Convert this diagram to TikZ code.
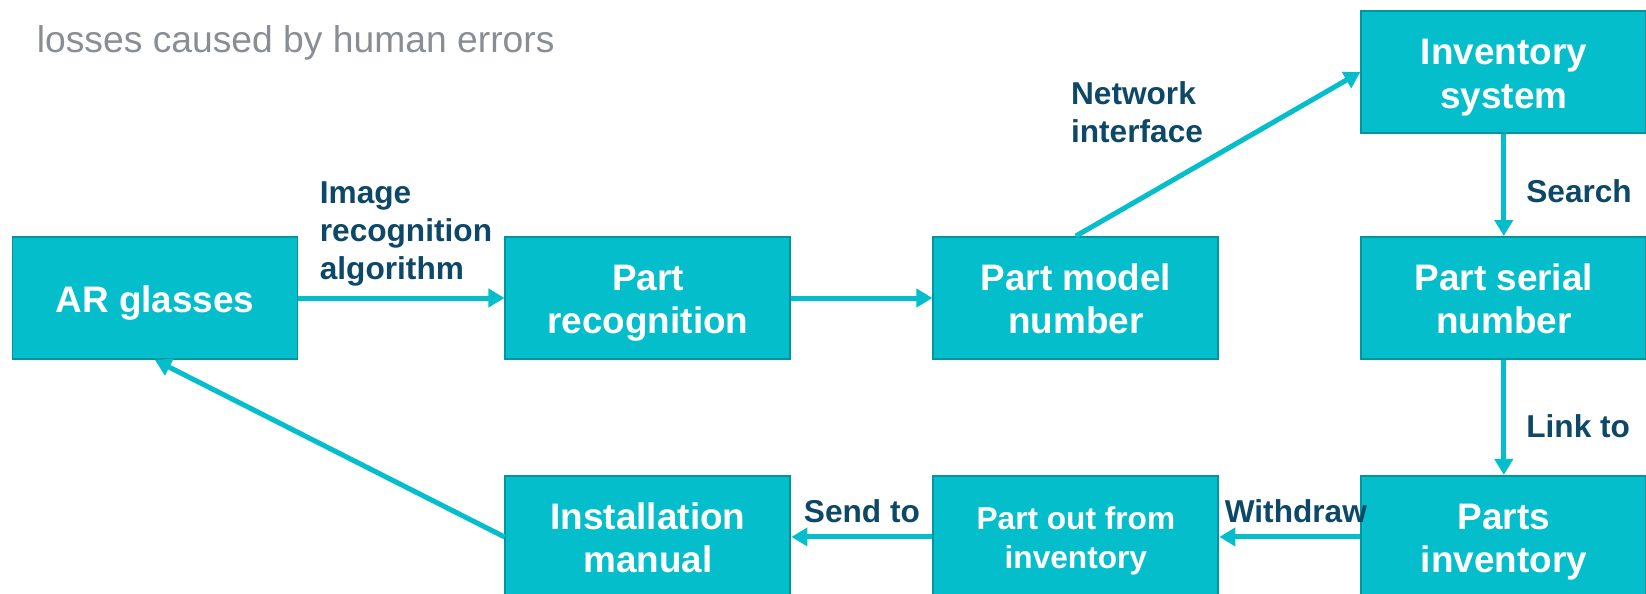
\documentclass[tikz,border=0pt]{standalone}
\usepackage{fontspec}
\setmainfont{Liberation Sans}
\usetikzlibrary{positioning,arrows.meta}

\definecolor{boxcyan}{RGB}{4,190,204}
\definecolor{boxedge}{RGB}{0,150,160}
\definecolor{lblnavy}{RGB}{14,72,104}
\definecolor{titlegrey}{RGB}{137,141,148}

% even line box for the text inside the boxes
\newcommand\topstrut{\rule{0pt}{1.0em}}
\newcommand\botstrut{\rule[-0.24em]{0pt}{0.24em}}

\tikzset{
    flowbox/.style={draw=boxedge, line width=1.1pt, fill=boxcyan, text=white, font=\fontsize{21}{25}\selectfont\bfseries, align=center, minimum width=5.70cm, minimum height=2.44cm, inner sep=0pt},
    flowarrow/.style={draw=boxcyan, line width=2.85pt, -{Triangle[length=0.32cm,width=0.36cm]}},
    flowlabel/.style={text=lblnavy, font=\fontsize{18}{21.6}\selectfont\bfseries, inner sep=0pt, align=left}
}

\begin{document}
\begin{tikzpicture}

        % Page frame
        \useasboundingbox (0,0) rectangle (32.92,-11.86);

        % Title line
        \node[anchor=base west, inner sep=0pt, text=titlegrey, font=\fontsize{21.2}{25}\selectfont] (title) at (0.73,-1.05) {losses caused by human errors};

        % Middle row
        \node[flowbox] (ar) at (3.10,-5.96) {\topstrut AR glasses\botstrut};
        \node[flowbox, right=4.12cm of ar] (rec) {\topstrut Part\\recognition\botstrut};
        \node[flowbox, right=2.82cm of rec] (model) {\topstrut Part model\\number\botstrut};
        \node[flowbox, right=2.82cm of model] (serial) {\topstrut Part serial\\number\botstrut};

        % Top and bottom rows
        \node[flowbox, above=2.04cm of serial] (invsys) {\topstrut Inventory\\system\botstrut};
        \node[flowbox, below=2.3cm of serial] (partsinv) {\topstrut Parts\\inventory\botstrut};
        \node[flowbox, left=2.82cm of partsinv, font=\fontsize{18}{22}\selectfont\bfseries] (partout) {\topstrut Part out from\\inventory\botstrut};
        \node[flowbox, left=2.82cm of partout] (manual) {\topstrut Installation\\manual\botstrut};

        % Label beside the slanted arrow
        \node[flowlabel] (netlbl) at (22.74,-2.24) {Network\\interface};

        % Connections
        \draw[flowarrow] (ar) -- node[flowlabel, above=0.18cm, xshift=0.09cm] (imglbl) {Image\\recognition\\algorithm} (rec);
        \draw[flowarrow] (rec) -- (model);
        \draw[flowarrow] (model.north) -- (invsys.west);
        \draw[flowarrow] (invsys) -- node[flowlabel, right=0.4cm, yshift=-0.13cm] (searchlbl) {Search} (serial);
        \draw[flowarrow] (serial) -- node[flowlabel, right=0.4cm, yshift=-0.18cm] (linklbl) {Link to} (partsinv);
        \draw[flowarrow] (partsinv) -- node[flowlabel, above=0.24cm, xshift=0.12cm] (drawlbl) {Withdraw} (partout);
        \draw[flowarrow] (partout) -- node[flowlabel, above=0.24cm] (sendlbl) {Send to} (manual);
        \draw[flowarrow] (manual.west) -- (ar.south); % back to the glasses

\end{tikzpicture}
\end{document}
